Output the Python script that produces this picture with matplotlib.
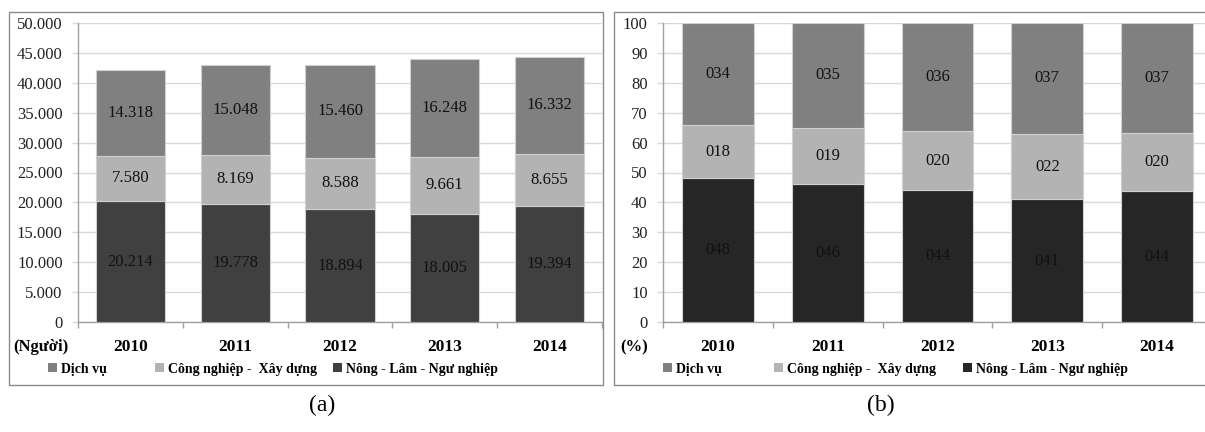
import numpy as np
import matplotlib
matplotlib.use("Agg")
import matplotlib.pyplot as plt
from matplotlib.patches import Rectangle, Patch

plt.rcParams['font.family'] = ['Liberation Serif', 'DejaVu Serif']

years = ["2010", "2011", "2012", "2013", "2014"]
series_names = ["Dịch vụ", "Công nghiệp -  Xây dựng", "Nông - Lâm - Ngư nghiệp"]

# (a) so nguoi
nong_abs = [20214, 19778, 18894, 18005, 19394]
cong_abs = [7580, 8169, 8588, 9661, 8655]
dich_abs = [14318, 15048, 15460, 16248, 16332]

# (b) co cau %
nong_pct = [48.0, 46.0, 44.0, 41.0, 43.7]
cong_pct = [18.0, 19.0, 20.0, 22.0, 19.5]
dich_pct = [34.0, 35.0, 36.0, 37.0, 36.8]
nong_pct_lbl = ["048", "046", "044", "041", "044"]
cong_pct_lbl = ["018", "019", "020", "022", "020"]
dich_pct_lbl = ["034", "035", "036", "037", "037"]

c_dich = "#808080"
c_cong = "#b3b3b3"
c_nong_a = "#404040"
c_nong_b = "#262626"
grid_c = "#d9d9d9"
W, H = 1205, 432


def fx(px):
    return px / W


def fy(py):
    return 1 - py / H


def thousands(v):
    return f"{v:,}".replace(",", ".")


fig = plt.figure(figsize=(W / 100, H / 100), dpi=100)

# khung hai panel
fig.patches.append(Rectangle((fx(9), fy(385)), fx(603 - 9), (385 - 12) / H,
                             transform=fig.transFigure, fill=False,
                             edgecolor="#8c8c8c", linewidth=1.0))
fig.patches.append(Rectangle((fx(614), fy(385)), fx(1240 - 614), (385 - 12) / H,
                             transform=fig.transFigure, fill=False,
                             edgecolor="#8c8c8c", linewidth=1.0))


def draw_panel(ax, bottoms_to_tops, colors, labels, width, ymax, ystep, yfmt):
    x = np.arange(len(years))
    base = np.zeros(len(years))
    for vals, col, lbls in zip(bottoms_to_tops, colors, labels):
        vals = np.array(vals, dtype=float)
        top = np.minimum(base + vals, ymax)
        ax.bar(x, top - base, width, bottom=base, color=col,
               edgecolor="#d0d0d0", linewidth=0.8, zorder=3)
        for xi, b, t, s in zip(x, base, top, lbls):
            ax.text(xi, (b + t) / 2, s, ha="center", va="center",
                    fontsize=12, color="#111111", zorder=4)
        base = base + vals
    ax.set_xlim(-0.5, len(years) - 0.5)
    ax.set_ylim(0, ymax)
    ax.set_yticks(np.arange(0, ymax + 1, ystep))
    ax.set_yticklabels([yfmt(v) for v in np.arange(0, ymax + 1, ystep)],
                       fontsize=12, color="#222222")
    ax.yaxis.grid(True, color=grid_c, linewidth=1.0, zorder=0)
    ax.set_axisbelow(True)
    ax.set_xticks(x)
    ax.set_xticklabels(years, fontsize=12.5, fontweight="bold")
    ax.set_xticks(np.arange(-0.5, len(years)), minor=True)
    ax.tick_params(axis="x", which="major", length=0, pad=12)
    ax.tick_params(axis="x", which="minor", length=4, color="#a0a0a0", width=1)
    ax.tick_params(axis="y", length=4, color=grid_c, width=1, pad=7)
    for s in ["top", "right"]:
        ax.spines[s].set_visible(False)
    for s in ["left", "bottom"]:
        ax.spines[s].set_color("#a0a0a0")
        ax.spines[s].set_linewidth(1.0)


ax_a = fig.add_axes([fx(78), fy(322), fx(602 - 78), (322 - 23) / H])
draw_panel(ax_a, [nong_abs, cong_abs, dich_abs], [c_nong_a, c_cong, c_dich],
           [[thousands(v) for v in nong_abs], [thousands(v) for v in cong_abs],
            [thousands(v) for v in dich_abs]],
           0.66, 50000, 5000, lambda v: thousands(int(v)))

ax_b = fig.add_axes([fx(663), fy(322), fx(1212 - 663), (322 - 23) / H])
draw_panel(ax_b, [nong_pct, cong_pct, dich_pct], [c_nong_b, c_cong, c_dich],
           [nong_pct_lbl, cong_pct_lbl, dich_pct_lbl],
           0.655, 100, 10, lambda v: str(int(v)))

fig.text(fx(13), fy(347), "(Người)", ha="left", va="center",
         fontsize=12, fontweight="bold")
fig.text(fx(620), fy(347), "(%)", ha="left", va="center",
         fontsize=12, fontweight="bold")

# chu thich: moi muc dat rieng theo vi tri o vuong
legend_font = {"size": 10, "weight": "bold"}
for cols, xs in [((c_dich, c_cong, c_nong_a), (48, 155, 333)),
                 ((c_dich, c_cong, c_nong_b), (663, 774, 963))]:
    for name, c, px in zip(series_names, cols, xs):
        fig.legend([Patch(facecolor=c, edgecolor="none")], [name],
                   loc="center left", bbox_to_anchor=(fx(px), fy(369)),
                   frameon=False, prop=legend_font, handlelength=0.65,
                   handleheight=0.65, handletextpad=0.3, borderpad=0,
                   borderaxespad=0)

fig.text(fx(322), fy(405), "(a)", ha="center", va="center", fontsize=17)
fig.text(fx(881), fy(405), "(b)", ha="center", va="center", fontsize=17)

fig.savefig("out.png", dpi=100)
